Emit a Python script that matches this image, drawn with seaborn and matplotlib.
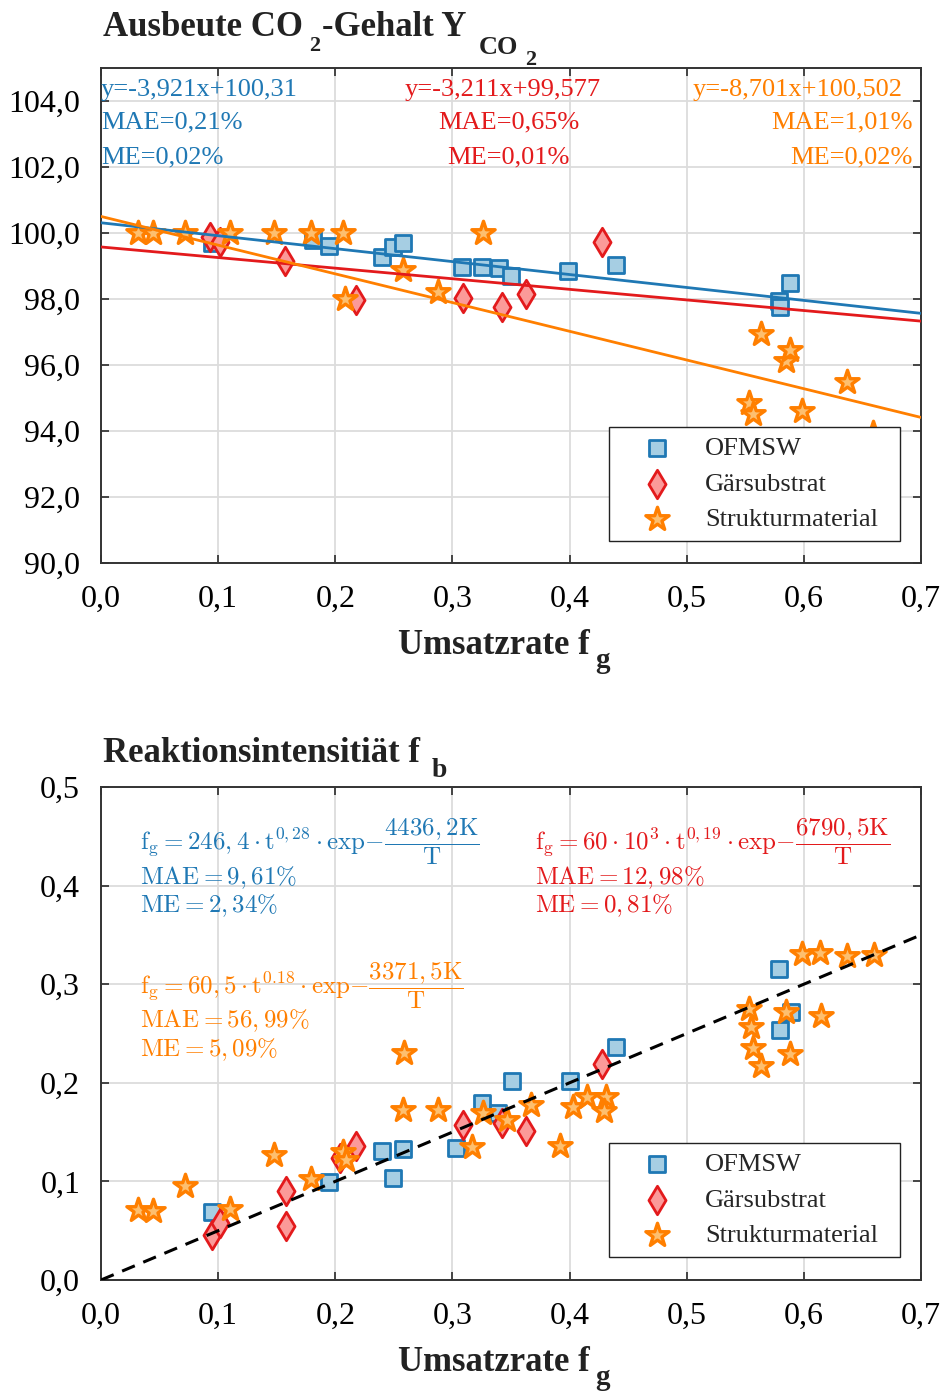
import numpy as np
import seaborn as sns
import matplotlib.pyplot as plt
from matplotlib.ticker import FuncFormatter

# ---------------- data ----------------
# Panel 1: CO2 yield vs. conversion rate f_g
ofmsw_fg_top = [0.095, 0.181, 0.195, 0.240, 0.249, 0.258, 0.308, 0.325, 0.340,
                0.350, 0.399, 0.440, 0.579, 0.580, 0.588]
ofmsw_y_top = [99.70, 99.78, 99.60, 99.26, 99.57, 99.69, 98.96, 98.96, 98.93,
               98.69, 98.84, 99.02, 97.95, 97.75, 98.50]

gaer_fg_top = [0.093, 0.102, 0.157, 0.218, 0.309, 0.342, 0.363, 0.428]
gaer_y_top = [99.87, 99.72, 99.14, 97.96, 98.02, 97.77, 98.14, 99.72]

struk_fg_top = [0.032, 0.044, 0.072, 0.110, 0.148, 0.179, 0.207, 0.208, 0.258,
                0.288, 0.326, 0.553, 0.557, 0.563, 0.585, 0.588, 0.598, 0.637,
                0.659]
struk_y_top = [100.0, 100.0, 100.0, 100.0, 100.0, 100.0, 100.0, 97.99, 98.87,
               98.20, 100.0, 94.86, 94.52, 96.95, 96.13, 96.44, 94.61, 95.47,
               93.95]

# linear fits  y = slope * x + intercept
fit_slope = [-3.921, -3.211, -8.701]
fit_intercept = [100.31, 99.577, 100.502]
fit_text = [["y=-3,921x+100,31", "MAE=0,21%", "ME=0,02%"],
            ["y=-3,211x+99,577", "MAE=0,65%", "ME=0,01%"],
            ["y=-8,701x+100,502", "MAE=1,01%", "ME=0,02%"]]

# Panel 2: reaction intensity f_b vs. conversion rate f_g
ofmsw_fg_bot = [0.095, 0.195, 0.240, 0.249, 0.258, 0.303, 0.325, 0.339, 0.351,
                0.400, 0.440, 0.579, 0.580, 0.589]
ofmsw_fb_bot = [0.069, 0.0995, 0.131, 0.1035, 0.133, 0.134, 0.180, 0.169, 0.202,
                0.202, 0.236, 0.315, 0.254, 0.272]

gaer_fg_bot = [0.095, 0.102, 0.158, 0.158, 0.204, 0.218, 0.309, 0.342, 0.363,
               0.428]
gaer_fb_bot = [0.046, 0.058, 0.090, 0.055, 0.124, 0.136, 0.157, 0.159, 0.151,
               0.219]

struk_fg_bot = [0.032, 0.044, 0.072, 0.110, 0.148, 0.179, 0.207, 0.209,
                0.259, 0.258, 0.288, 0.317, 0.326, 0.347, 0.367, 0.392, 0.403,
                0.415, 0.431, 0.429,
                0.553, 0.555, 0.557, 0.563, 0.585, 0.588, 0.598, 0.614, 0.615,
                0.637, 0.660]
struk_fb_bot = [0.071, 0.070, 0.095, 0.072, 0.127, 0.102, 0.130, 0.122,
                0.230, 0.172, 0.172, 0.135, 0.169, 0.162, 0.177, 0.136, 0.175,
                0.186, 0.186, 0.171,
                0.275, 0.257, 0.235, 0.217, 0.272, 0.229, 0.331, 0.332, 0.268,
                0.329, 0.330]

# reference line f_b = 0.5 * f_g
parity_slope = 0.5

model_text = [
    [r"$\mathrm{f_g} = 246,4\cdot\mathrm{t}^{0,28}\cdot\mathrm{exp}{-}\dfrac{4436,2\mathrm{K}}{\mathrm{T}}$",
     r"$\mathrm{MAE} = 9,61\%$", r"$\mathrm{ME} = 2,34\%$"],
    [r"$\mathrm{f_g} = 60\cdot 10^3\cdot\mathrm{t}^{0,19}\cdot\mathrm{exp}{-}\dfrac{6790,5\mathrm{K}}{\mathrm{T}}$",
     r"$\mathrm{MAE} = 12,98\%$", r"$\mathrm{ME} = 0,81\%$"],
    [r"$\mathrm{f_g} = 60,5\cdot\mathrm{t}^{0.18}\cdot\mathrm{exp}{-}\dfrac{3371,5\mathrm{K}}{\mathrm{T}}$",
     r"$\mathrm{MAE} = 56,99\%$", r"$\mathrm{ME} = 5,09\%$"],
]

series_names = ["OFMSW", "Gärsubstrat", "Strukturmaterial"]
x_ticks = [0.0, 0.1, 0.2, 0.3, 0.4, 0.5, 0.6, 0.7]
y_ticks_top = [90, 92, 94, 96, 98, 100, 102, 104]
y_ticks_bot = [0.0, 0.1, 0.2, 0.3, 0.4, 0.5]

# ---------------- style ----------------
sns.set_theme(style="whitegrid")
plt.rcParams['font.family'] = ['Liberation Serif', 'DejaVu Serif']
plt.rcParams['mathtext.fontset'] = 'stix'

BLUE, RED, ORANGE = "#1f78b4", "#e31a1c", "#ff7f00"
STYLES = [
    dict(marker="s", s=120, face="#a6cee3", edge=BLUE, lw=2.0),
    dict(marker="d", s=210, face="#fb9a99", edge=RED, lw=2.0),
    dict(marker="*", s=310, face="#fdbf6f", edge=ORANGE, lw=2.4),
]
LINE_COLORS = [BLUE, RED, ORANGE]

W, H = 940, 1393
fig = plt.figure(figsize=(W / 100, H / 100), dpi=100)
ax1 = fig.add_axes([101 / W, 1 - 563 / H, 820 / W, 495 / H])
ax2 = fig.add_axes([101 / W, 1 - 1280 / H, 820 / W, 493 / H])

comma = FuncFormatter(lambda v, _: f"{v:.1f}".replace(".", ","))


def style_axes(ax, yticks, ylim):
    ax.set_xlim(0, 0.7)
    ax.set_ylim(*ylim)
    ax.set_xticks(x_ticks)
    ax.set_yticks(yticks)
    ax.xaxis.set_major_formatter(comma)
    ax.yaxis.set_major_formatter(comma)
    ax.grid(True, color="#dcdcdc", linewidth=1.3)
    ax.set_axisbelow(True)
    for sp in ax.spines.values():
        sp.set_visible(True)
        sp.set_color("#333333")
        sp.set_linewidth(1.4)
    ax.tick_params(axis="both", which="major", direction="in", length=6,
                   width=1.4, color="#444444", labelsize=23, labelcolor="black",
                   top=True, right=True, bottom=True, left=True)
    ax.tick_params(axis="x", pad=16)
    ax.tick_params(axis="y", pad=15)
    ax.set_xlabel("")
    ax.set_ylabel("")


def draw_series(ax, xs, ys):
    for x, y, st, name in zip(xs, ys, STYLES, series_names):
        sns.scatterplot(x=x, y=y, ax=ax, marker=st["marker"], s=st["s"],
                        color=st["face"], edgecolor=st["edge"],
                        linewidth=st["lw"], label=name, zorder=3)


def add_legend(ax, y0):
    leg = ax.legend(loc="lower left", bbox_to_anchor=(0.6195, y0, 0.3549, 0.2),
                    mode="expand", fontsize=19, frameon=True, fancybox=False,
                    edgecolor="#222222", framealpha=1, borderpad=0.38,
                    handlelength=2.9, handletextpad=0.35, labelspacing=0.45,
                    borderaxespad=0)
    leg.get_frame().set_linewidth(1.0)
    leg.set_zorder(10)


def compose(pieces, x0, y0):
    """Bold label built from pieces (text, size, dx_px, drop_px) in a row."""
    prev = fig.text(x0 / W, 1 - y0 / H, pieces[0][0], fontsize=pieces[0][1],
                    fontweight="bold", ha="left", va="baseline",
                    color="#222222")
    for txt, size, dx, dy in pieces[1:]:
        prev = ax1.annotate(txt, xy=(1, 0), xycoords=prev,
                            xytext=(dx, -dy), textcoords="offset pixels",
                            fontsize=size, fontweight="bold", ha="left",
                            va="bottom", color="#222222",
                            annotation_clip=False)


# ---------------- panel 1 ----------------
style_axes(ax1, y_ticks_top, (90, 105))
draw_series(ax1, [ofmsw_fg_top, gaer_fg_top, struk_fg_top],
            [ofmsw_y_top, gaer_y_top, struk_y_top])
xs_fit = np.array([0.0, 0.7])
for m, b, c in zip(fit_slope, fit_intercept, LINE_COLORS):
    sns.lineplot(x=xs_fit, y=m * xs_fit + b, ax=ax1, color=c, linewidth=2.0,
                 zorder=4)
add_legend(ax1, 0.0444)

rows_y = [0.955, 0.889, 0.820]
for lines, c, xpos, ha in zip(fit_text, LINE_COLORS,
                              [[0.0, 0.0, 0.0], [0.490, 0.497, 0.497],
                               [0.978, 0.990, 0.990]],
                              ["left", "center", "right"]):
    for t, yy, xx in zip(lines, rows_y, xpos):
        ax1.text(xx, yy, t, transform=ax1.transAxes, fontsize=19, color=c,
                 ha=ha, va="center", zorder=6)

# ---------------- panel 2 ----------------
style_axes(ax2, y_ticks_bot, (0, 0.5))
draw_series(ax2, [ofmsw_fg_bot, gaer_fg_bot, struk_fg_bot],
            [ofmsw_fb_bot, gaer_fb_bot, struk_fb_bot])
sns.lineplot(x=xs_fit, y=parity_slope * xs_fit, ax=ax2, color="black",
             linewidth=2.2, linestyle=(0, (4.5, 3.0)), zorder=4)
add_legend(ax2, 0.0467)

eq_pos = [(0.0476, [0.890, 0.817, 0.759]),
          (0.529, [0.890, 0.817, 0.759]),
          (0.0476, [0.598, 0.525, 0.467])]
for lines, c, (xx, ys) in zip(model_text, LINE_COLORS, eq_pos):
    for t, yy in zip(lines, ys):
        ax2.text(xx, yy, t, transform=ax2.transAxes, fontsize=18, color=c,
                 ha="left", va="center", math_fontfamily="cm", zorder=6)

# ---------------- titles and axis labels ----------------
compose([("Ausbeute CO", 25, 0, 0), ("2", 16, 6, 12), ("-Gehalt Y", 25, 2, -12),
         ("CO", 19, 12, 15), ("2", 16, 7, 11)], 103, 36)
compose([("Reaktionsintensitiät f", 25, 0, 0), ("b", 20, 12, 13)], 103, 762)
compose([("Umsatzrate f", 25, 0, 0), ("g", 21, 5, 12)], 398, 654)
compose([("Umsatzrate f", 25, 0, 0), ("g", 21, 5, 12)], 398, 1371)

fig.savefig("out.png", dpi=100)
